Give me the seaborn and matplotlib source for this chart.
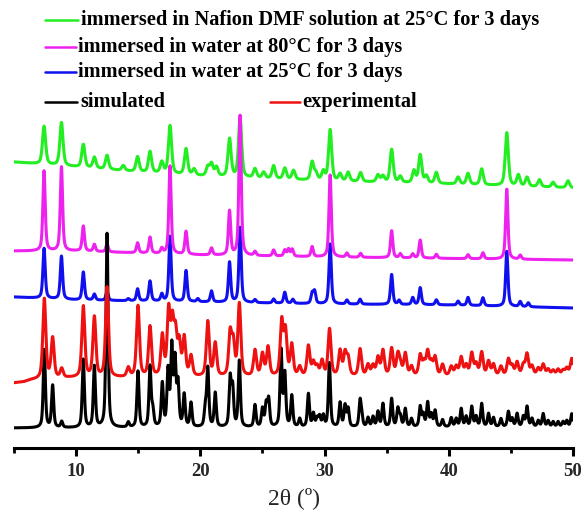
import numpy as np
import pandas as pd
import matplotlib
matplotlib.use("Agg")
import matplotlib.pyplot as plt
from matplotlib.lines import Line2D
from matplotlib.ticker import MultipleLocator
import seaborn as sns

# ---- peak tables: 2theta position (deg) and intensity above baseline (a.u.) ----
sim_pos = [7.44, 8.11, 8.84, 10.58, 11.47, 12.49, 14.2, 14.98, 15.95, 16.17, 16.94,
           17.4, 17.7, 17.96, 18.2, 18.7, 19.25, 20.4, 20.6, 21.2, 22.4, 22.6, 23.14,
           24.4, 25.0, 25.3, 25.5, 26.5, 26.8, 27.36, 28.0, 28.7, 29.1, 29.4, 29.6,
           29.9, 30.39, 31.25, 31.65, 31.9, 32.86, 33.0, 33.5, 33.9, 34.3, 34.7, 35.4,
           35.9, 36.1, 36.5, 37.0, 37.7, 37.95, 38.3, 38.6, 38.9, 39.5, 40.2, 40.6,
           41.0, 41.4, 41.85, 42.2, 42.65, 43.2, 43.6, 44.2, 44.8, 45.1, 45.5, 46.0,
           46.3, 46.7, 47.2, 47.6, 48.0, 48.4, 48.8, 49.2, 49.5, 49.9]
sim_int = [78, 42, 6, 68, 61, 194, 5, 56, 60, 16, 43,
           55, 78, 64, 42, 32, 24, 18, 58, 34, 48, 38, 66,
           22, 18, 22, 27, 76, 52, 31, 8, 33, 13, 8, 10,
           11, 64, 24, 21, 18, 26, 8, 9, 10, 15, 23, 28,
           18, 10, 18, 8, 20, 12, 24, 12, 16, 7, 9, 8,
           18, 10, 20, 10, 23, 13, 9, 8, 15, 8, 13, 10,
           20, 8, 6, 13, 6, 5, 5, 5, 6, 13]

exp_pos = [7.44, 8.11, 8.84, 10.58, 11.47, 12.49, 14.2, 14.98, 15.95, 16.94, 17.45,
           17.75, 18.0, 18.3, 18.7, 19.25, 20.6, 21.2, 22.4, 22.65, 23.14, 24.4, 25.0,
           25.45, 26.55, 26.85, 27.36, 28.0, 28.7, 29.1, 29.4, 29.8, 30.4, 31.25,
           31.65, 31.9, 32.86, 33.5, 33.9, 34.3, 34.7, 35.4, 35.9, 36.1, 36.5, 37.0,
           37.7, 38.0, 38.3, 38.6, 38.9, 39.5, 40.2, 40.6, 41.0, 41.4, 41.85, 42.2,
           42.65, 43.2, 43.6, 44.2, 44.8, 45.1, 45.5, 46.0, 46.3, 46.7, 47.2, 47.6,
           48.0, 48.4, 48.8, 49.2, 49.5, 49.9]
exp_int = [80, 40, 9, 71, 60, 90, 9, 71, 50, 40, 64,
           50, 40, 32, 38, 20, 55, 33, 42, 32, 72, 26, 22,
           29, 54, 44, 31, 9, 30, 13, 9, 15, 47, 25,
           22, 17, 27, 11, 10, 18, 25, 27, 20, 10, 22, 9,
           20, 12, 23, 12, 18, 11, 9, 9, 18, 10, 22, 11,
           23, 14, 11, 9, 16, 9, 13, 10, 21, 9, 7, 11,
           6, 5, 6, 5, 7, 17]

w25_pos = [7.42, 8.82, 10.58, 11.47, 12.49, 14.2, 14.95, 15.95, 16.9, 17.56, 18.85,
           19.8, 20.9, 22.35, 23.2, 24.4, 25.9, 26.8, 27.45, 29.0, 29.2, 30.45, 31.8,
           32.86, 35.4, 36.0, 37.1, 37.7, 39.0, 40.75, 41.55, 42.75, 44.67, 45.75, 46.4]
w25_int = [50, 43, 28, 6, 9, 2, 12, 20, 7, 65, 31,
           3, 11, 40, 75, 3, 4, 11, 4, 10, 12, 60, 4,
           5, 30, 4, 7, 17, 5, 4, 8, 8, 55, 5, 4]

w80_pos = [7.42, 8.82, 10.58, 11.47, 12.49, 14.95, 15.95, 16.9, 17.56, 18.85, 20.9,
           22.35, 23.2, 24.4, 25.9, 26.8, 27.1, 27.4, 29.0, 30.45, 31.8, 32.9, 35.4,
           36.1, 37.1, 37.7, 39.0, 41.55, 42.75, 44.67, 45.75]
w80_int = [80, 84, 25, 7, 8, 10, 16, 5, 88, 23, 7,
           44, 140, 4, 6, 6, 7, 7, 10, 82, 4, 4, 27,
           4, 4, 18, 4, 4, 6, 70, 4]

naf_pos = [7.42, 8.82, 10.58, 11.47, 12.49, 13.8, 14.95, 15.95, 16.9, 17.56, 18.85,
           19.5, 20.6, 20.9, 21.3, 22.35, 23.2, 24.4, 25.1, 25.9, 26.8, 27.5, 29.0,
           29.3, 29.9, 30.45, 31.25, 31.9, 32.9, 34.3, 34.7, 35.4, 36.1, 37.2, 37.7,
           38.2, 39.0, 40.75, 41.55, 42.65, 44.67, 45.6, 46.3, 47.3, 48.4, 49.6]
naf_int = [38, 43, 23, 11, 14, 5, 15, 21, 11, 48, 26,
           6, 9, 12, 9, 38, 60, 9, 6, 13, 11, 9, 18,
           7, 9, 51, 7, 9, 9, 7, 6, 33, 6, 12, 28,
           7, 11, 7, 11, 16, 53, 11, 9, 7, 5, 7]

# ---- baselines (stack offsets) as anchor points: 2theta, level ----
sim_base_x, sim_base_y = [5, 50], [20, 21]
exp_base_x, exp_base_y = [5, 5.8, 6.4, 9.5, 30, 50], [65, 66, 68, 70, 71, 72]
w25_base_x, w25_base_y = [5, 10, 20, 30, 40, 50], [151, 148, 146, 144, 143, 140]
w80_base_x, w80_base_y = [5, 10, 20, 30, 50], [197, 197, 193, 191, 188]
naf_base_x, naf_base_y = [5, 10, 15, 20, 30, 40, 50], [286, 281, 276, 272, 267, 264, 260]

labels = {
    "naf": "immersed in Nafion DMF solution at 25\u00b0C for 3 days",
    "w80": "immersed in water at 80\u00b0C for 3 days",
    "w25": "immersed in water at 25\u00b0C for 3 days",
    "sim": "simulated",
    "exp": "experimental",
}
colors = {"naf": "#22ee22", "w80": "#ee22ee", "w25": "#1010ee",
          "sim": "#000000", "exp": "#ee1111"}

two_theta = np.arange(5.0, 50.0001, 0.01)


def pattern(pos, inten, bx, by, fwhm, eta=0.55):
    """Pseudo-Voigt peak sum on top of a baseline."""
    y = np.interp(two_theta, bx, by).astype(float)
    g = fwhm / 2.0
    for p, h in zip(pos, inten):
        d = two_theta - p
        lor = 1.0 / (1.0 + (d / g) ** 2)
        gau = np.exp(-np.log(2) * (d / g) ** 2)
        y += h * (eta * lor + (1 - eta) * gau)
    return y


series = {
    "w25": pattern(w25_pos, w25_int, w25_base_x, w25_base_y, 0.22),
    "naf": pattern(naf_pos, naf_int, naf_base_x, naf_base_y, 0.30, eta=0.5),
    "w80": pattern(w80_pos, w80_int, w80_base_x, w80_base_y, 0.22),
    "sim": pattern(sim_pos, sim_int, sim_base_x, sim_base_y, 0.20),
    "exp": pattern(exp_pos, exp_int, exp_base_x, exp_base_y, 0.28),
}

sns.set_theme(style="white")
plt.rcParams["font.family"] = ["Liberation Serif", "DejaVu Serif"]

W, H = 584, 516
fig = plt.figure(figsize=(W / 100, H / 100), dpi=100)
ax = fig.add_axes([14 / W, (H - 448) / H, (573 - 14) / W, 348 / H])

for key in ["w25", "naf", "w80", "sim", "exp"]:
    df = pd.DataFrame({"2theta": two_theta, "I": series[key]})
    sns.lineplot(data=df, x="2theta", y="I", ax=ax, color=colors[key], lw=2.2,
                 estimator=None, sort=False, legend=False)

ax.set_xlim(5, 50)
ax.set_ylim(0, 348)
for s in ["left", "right", "top"]:
    ax.spines[s].set_visible(False)
ax.spines["bottom"].set_linewidth(2.2)
ax.spines["bottom"].set_color("black")
ax.set_yticks([])
ax.xaxis.set_major_locator(MultipleLocator(10))
ax.xaxis.set_minor_locator(MultipleLocator(5))
ax.tick_params(axis="x", which="major", direction="out", length=6, width=2.2,
               color="black", bottom=True, labelsize=13.5, pad=5)
ax.tick_params(axis="x", which="minor", direction="out", length=3.5, width=2.0,
               color="black", bottom=True)
for t in ax.get_xticklabels():
    t.set_fontweight("bold")
ax.set_xlabel("2\u03b8 (\u00ba)", fontsize=17, labelpad=5)
ax.set_ylabel("")

# legend rows
def legend_entry(x0, x1, y, key, xt):
    fig.add_artist(Line2D([x0 / W, x1 / W], [1 - y / H] * 2, transform=fig.transFigure,
                          color=colors[key], lw=1.8))
    fig.text(xt / W, 1 - y / H, labels[key], fontsize=14.7, fontweight="bold",
             va="center", ha="left", color="black")

legend_entry(45, 78, 20, "naf", 81)
legend_entry(45, 76, 47, "w80", 78)
legend_entry(45, 76, 72, "w25", 78)
legend_entry(45, 77, 102, "sim", 80)
legend_entry(270, 300, 102, "exp", 302)

fig.savefig("out.png", dpi=100)
